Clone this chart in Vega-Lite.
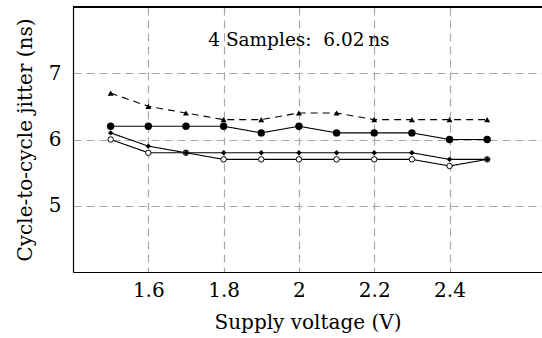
{
  "$schema": "https://vega.github.io/schema/vega-lite/v6.json",
  "width": 469,
  "height": 265,
  "autosize": {"type": "none"},
  "padding": {"left": 73, "top": 7, "right": 0, "bottom": 66},
  "background": "white",
  "view": {"stroke": null},
  "config": {
    "font": "DejaVu Serif",
    "axis": {
      "labelFont": "DejaVu Serif",
      "titleFont": "DejaVu Serif",
      "labelFontSize": 20,
      "titleFontSize": 20,
      "titleFontWeight": "normal",
      "labelColor": "black",
      "titleColor": "black",
      "domainColor": "black",
      "domainWidth": 1.2,
      "ticks": false,
      "gridColor": "#a8a8a8",
      "gridDash": [8, 5],
      "gridWidth": 1.2,
      "gridOpacity": 1
    }
  },
  "data": {
    "values": [
      {"v": 1.5, "j": 6.7, "s": "A"}, {"v": 1.6, "j": 6.5, "s": "A"}, {"v": 1.7, "j": 6.4, "s": "A"}, {"v": 1.8, "j": 6.3, "s": "A"},
      {"v": 1.9, "j": 6.3, "s": "A"}, {"v": 2.0, "j": 6.4, "s": "A"}, {"v": 2.1, "j": 6.4, "s": "A"}, {"v": 2.2, "j": 6.3, "s": "A"},
      {"v": 2.3, "j": 6.3, "s": "A"}, {"v": 2.4, "j": 6.3, "s": "A"}, {"v": 2.5, "j": 6.3, "s": "A"},
      {"v": 1.5, "j": 6.2, "s": "B"}, {"v": 1.6, "j": 6.2, "s": "B"}, {"v": 1.7, "j": 6.2, "s": "B"}, {"v": 1.8, "j": 6.2, "s": "B"},
      {"v": 1.9, "j": 6.1, "s": "B"}, {"v": 2.0, "j": 6.2, "s": "B"}, {"v": 2.1, "j": 6.1, "s": "B"}, {"v": 2.2, "j": 6.1, "s": "B"},
      {"v": 2.3, "j": 6.1, "s": "B"}, {"v": 2.4, "j": 6.0, "s": "B"}, {"v": 2.5, "j": 6.0, "s": "B"},
      {"v": 1.5, "j": 6.1, "s": "C"}, {"v": 1.6, "j": 5.9, "s": "C"}, {"v": 1.7, "j": 5.8, "s": "C"}, {"v": 1.8, "j": 5.8, "s": "C"},
      {"v": 1.9, "j": 5.8, "s": "C"}, {"v": 2.0, "j": 5.8, "s": "C"}, {"v": 2.1, "j": 5.8, "s": "C"}, {"v": 2.2, "j": 5.8, "s": "C"},
      {"v": 2.3, "j": 5.8, "s": "C"}, {"v": 2.4, "j": 5.7, "s": "C"}, {"v": 2.5, "j": 5.7, "s": "C"},
      {"v": 1.5, "j": 6.0, "s": "D"}, {"v": 1.6, "j": 5.8, "s": "D"}, {"v": 1.7, "j": 5.8, "s": "D"}, {"v": 1.8, "j": 5.7, "s": "D"},
      {"v": 1.9, "j": 5.7, "s": "D"}, {"v": 2.0, "j": 5.7, "s": "D"}, {"v": 2.1, "j": 5.7, "s": "D"}, {"v": 2.2, "j": 5.7, "s": "D"},
      {"v": 2.3, "j": 5.7, "s": "D"}, {"v": 2.4, "j": 5.6, "s": "D"}, {"v": 2.5, "j": 5.7, "s": "D"},
      {"v": 2.0, "j": 7.5, "s": "note", "label": "4 Samples:\u00a0 6.02\u2009ns"}
    ]
  },
  "encoding": {
    "x": {
      "field": "v", "type": "quantitative",
      "scale": {"domain": [1.4, 2.6456], "nice": false, "zero": false},
      "axis": {"values": [1.6, 1.8, 2.0, 2.2, 2.4], "title": "Supply voltage (V)", "labelPadding": 8, "titlePadding": 12, "format": "~g"}
    },
    "y": {
      "field": "j", "type": "quantitative",
      "scale": {"domain": [4, 8], "nice": false, "zero": false},
      "axis": {"values": [5, 6, 7], "title": "Cycle-to-cycle jitter (ns)", "labelPadding": 12, "titlePadding": 13}
    }
  },
  "layer": [
    {
      "mark": {"type": "rule", "color": "black", "strokeWidth": 1.2},
      "encoding": {"x": {"datum": 1.4}, "x2": {"datum": 2.6456}, "y": {"datum": 8}}
    },
    {
      "transform": [{"filter": "datum.s !== 'note'"}],
      "mark": {"type": "line", "color": "black", "strokeWidth": 1.1},
      "encoding": {
        "detail": {"field": "s"},
        "strokeDash": {"field": "s", "type": "nominal", "scale": {"domain": ["A", "B", "C", "D"], "range": [[7, 5], [1, 0], [1, 0], [1, 0]]}, "legend": null}
      }
    },
    {
      "transform": [{"filter": "datum.s === 'A'"}],
      "mark": {"type": "point", "shape": "triangle-up", "filled": true, "color": "black", "size": 36, "opacity": 1}
    },
    {
      "transform": [{"filter": "datum.s === 'B'"}],
      "mark": {"type": "point", "shape": "circle", "filled": true, "color": "black", "size": 55, "opacity": 1}
    },
    {
      "transform": [{"filter": "datum.s === 'D'"}],
      "mark": {"type": "point", "shape": "circle", "filled": true, "fill": "white", "stroke": "black", "strokeWidth": 1, "size": 30, "opacity": 1}
    },
    {
      "transform": [{"filter": "datum.s === 'C'"}],
      "mark": {"type": "point", "shape": "diamond", "filled": true, "color": "black", "size": 30, "opacity": 1}
    },
    {
      "transform": [{"filter": "datum.s === 'note'"}],
      "mark": {"type": "text", "font": "DejaVu Serif", "fontSize": 18.5, "color": "black", "align": "center", "baseline": "middle"},
      "encoding": {"text": {"field": "label", "type": "nominal"}}
    }
  ]
}
